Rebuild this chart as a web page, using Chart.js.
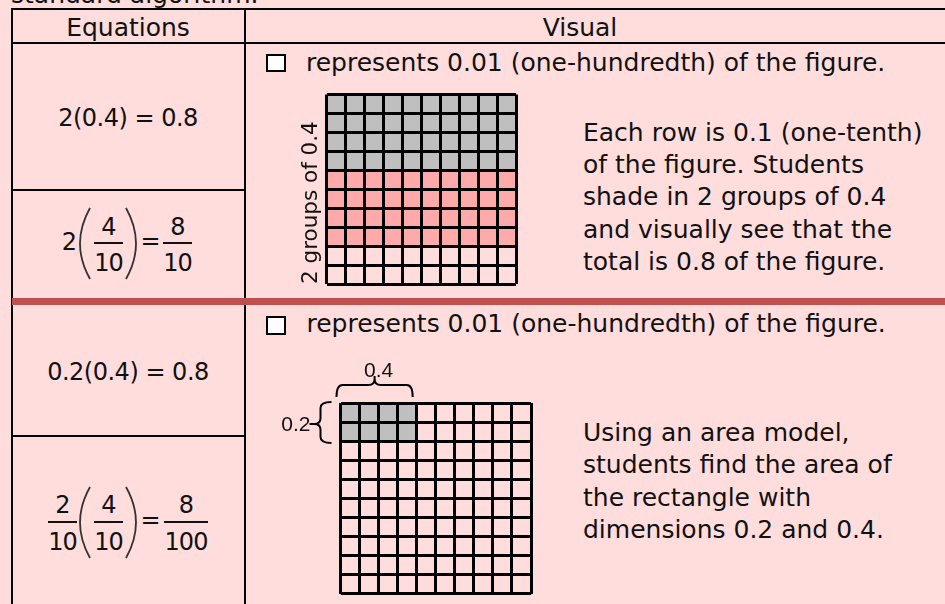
<!DOCTYPE html>
<html>
<head>
<meta charset="utf-8">
<script src="https://cdn.jsdelivr.net/npm/chart.js@4.4.1/dist/chart.umd.min.js"></script>
<style>
  html, body { margin: 0; padding: 0; }
  body { width: 945px; height: 604px; overflow: hidden; position: relative; background: #FFDDDD;
         font-family: 'DejaVu Sans', sans-serif; color: #111; }
  .t { position: absolute; white-space: nowrap; font-size: 25px; line-height: 1.164; }
  .c { width: 200px; text-align: center; }
  .eq { font-size: 24px; letter-spacing: -0.5px; }
  .f { position: absolute; width: 60px; text-align: center; font-size: 24px; line-height: 1.164; letter-spacing: -1px; }
  .p { position: absolute; white-space: nowrap; font-size: 25px; line-height: 32.3px; }
  .box { position: absolute; width: 20px; height: 18px; box-sizing: border-box; border: 2px solid #000; background: #fff; }
  canvas { position: absolute; }
  svg { position: absolute; left: 0; top: 0; }
</style>
</head>
<body>

<svg width="945" height="604">
  <rect x="11" y="8" width="934" height="2" fill="#000"/>
  <rect x="11" y="42" width="934" height="2" fill="#000"/>
  <rect x="11" y="8" width="2" height="596" fill="#000"/>
  <rect x="244" y="8" width="2" height="596" fill="#000"/>
  <rect x="11" y="189" width="235" height="2" fill="#000"/>
  <rect x="11" y="435" width="235" height="2" fill="#000"/>
  <rect x="12" y="298" width="933" height="7" fill="#C0504D"/>
  <!-- fraction bars -->
  <rect x="94" y="242" width="29" height="2" fill="#111"/>
  <rect x="163" y="242" width="29" height="2" fill="#111"/>
  <rect x="48" y="521" width="29" height="2" fill="#111"/>
  <rect x="94" y="521" width="29" height="2" fill="#111"/>
  <rect x="164" y="521" width="44" height="2" fill="#111"/>
  <!-- parentheses -->
  <g fill="none" stroke="#333" stroke-width="1.8">
    <path d="M90 208 Q70 243.5 90 279"/>
    <path d="M126 208 Q146 243.5 126 279"/>
    <path d="M90 487 Q70 522.5 90 558"/>
    <path d="M126 487 Q146 522.5 126 558"/>
  </g>
</svg>

<div class="t" style="left:11px; top:-20.2px">standard algorithm.</div>
<div class="t c" style="left:28px; top:12.8px">Equations</div>
<div class="t c" style="left:480px; top:12.8px">Visual</div>

<div class="t eq c" style="left:28px; top:104.7px">2(0.4) = 0.8</div>
<div class="f" style="left:39px; top:229.4px">2</div>
<div class="f" style="left:78.5px; top:213.7px">4</div>
<div class="f" style="left:78.5px; top:249.7px">10</div>
<div class="f" style="left:120px; top:228.2px">=</div>
<div class="f" style="left:147.5px; top:213.7px">8</div>
<div class="f" style="left:147.5px; top:249.7px">10</div>

<div class="t eq c" style="left:28px; top:358.7px">0.2(0.4) = 0.8</div>
<div class="f" style="left:32.5px; top:491.7px">2</div>
<div class="f" style="left:32.5px; top:528.7px">10</div>
<div class="f" style="left:78.5px; top:491.7px">4</div>
<div class="f" style="left:78.5px; top:528.7px">10</div>
<div class="f" style="left:120px; top:507.2px">=</div>
<div class="f" style="left:156px; top:491.7px">8</div>
<div class="f" style="left:156px; top:528.7px">100</div>

<div class="box" style="left:266px; top:54px"></div>
<div class="t" style="left:306px; top:47.8px">represents 0.01 (one-hundredth) of the figure.</div>
<div class="p" style="left:583px; top:116.7px">Each row is 0.1 (one-tenth)<br>of the figure. Students<br>shade in 2 groups of 0.4<br>and visually see that the<br>total is 0.8 of the figure.</div>

<div class="box" style="left:265.5px; top:315.5px; height:19px"></div>
<div class="t" style="left:306.5px; top:309.3px">represents 0.01 (one-hundredth) of the figure.</div>
<div class="p" style="left:583px; top:417.2px">Using an area model,<br>students find the area of<br>the rectangle with<br>dimensions 0.2 and 0.4.</div>

<canvas id="grid1" width="256" height="210" style="left:270px; top:84px"></canvas>
<canvas id="grid2" width="275" height="254" style="left:270px; top:350px"></canvas>

<script>
// hundredths grids: 10 columns, rows listed from bottom to top, one cell = 0.01 of the figure
const gridColumns = ['1', '2', '3', '4', '5', '6', '7', '8', '9', '10'];
const cellValue = 1;
const gridRowCount = 10;

// grid 1: group of 0.4 that shades each row (0 = not shaded)
const grid1RowGroups = [0, 0, 2, 2, 2, 2, 1, 1, 1, 1];
const grid1Title = '2 groups of 0.4';

// grid 2: shaded cells in each row
const grid2ShadedCells = [0, 0, 0, 0, 0, 0, 0, 0, 4, 4];
const grid2WidthLabel = '0.4';
const grid2HeightLabel = '0.2';

const groupColors = ['rgba(0,0,0,0)', '#BFBFBF', '#FFAAAA'];
const shadeColor = '#BFBFBF';

Chart.defaults.font.family = "'DejaVu Sans'";

function rowDataset(colors) {
  return {
    data: gridColumns.map(() => cellValue),
    backgroundColor: colors,
    borderWidth: 0,
    barPercentage: 1,
    categoryPercentage: 1
  };
}

function gridScales(title) {
  return {
    x: {
      stacked: true,
      ticks: { display: false },
      grid: { color: '#000', lineWidth: 3, drawTicks: false, offset: true, z: 1 },
      border: { display: false }
    },
    y: {
      stacked: true, min: 0, max: gridRowCount,
      ticks: { display: false, stepSize: 1 },
      grid: { color: '#000', lineWidth: 3, drawTicks: false, z: 1 },
      border: { display: false },
      title: title || { display: false }
    }
  };
}

const baseOptions = {
  responsive: false,
  animation: false,
  events: [],
  plugins: { legend: { display: false }, tooltip: { enabled: false } }
};

// curly braces with the dimension labels of the shaded rectangle
const bracePlugin = {
  id: 'braces',
  afterDraw(chart) {
    const { ctx, scales: { x, y } } = chart;
    const cell = x.width / gridColumns.length;
    const cols = Math.max(...grid2ShadedCells);
    const rows = grid2ShadedCells.filter(n => n > 0).length;
    const r = 6;
    ctx.save();
    ctx.strokeStyle = '#000';
    ctx.lineWidth = 2;

    // top brace
    const x0 = x.left - 4, x1 = x.left + cols * cell - 4, xm = (x0 + x1) / 2;
    const yb = y.top - 6, ym = y.top - 18, yt = y.top - 27;
    ctx.beginPath();
    ctx.moveTo(x0, yb);
    ctx.quadraticCurveTo(x0, ym, x0 + r, ym);
    ctx.lineTo(xm - r, ym);
    ctx.quadraticCurveTo(xm, ym, xm, ym - r);
    ctx.lineTo(xm, yt);
    ctx.moveTo(xm, ym - r);
    ctx.quadraticCurveTo(xm, ym, xm + r, ym);
    ctx.lineTo(x1 - r, ym);
    ctx.quadraticCurveTo(x1, ym, x1, yb);
    ctx.stroke();

    // left brace
    const y0 = y.top - 1, y1 = y.getPixelForValue(gridRowCount - rows) + 2;
    const ymid = (y0 + y1) / 2 + 1.5;
    const xb = x.left - 9, xl = x.left - 20, xt = x.left - 31;
    ctx.beginPath();
    ctx.moveTo(xb, y0);
    ctx.quadraticCurveTo(xl, y0, xl, y0 + r);
    ctx.lineTo(xl, ymid - r);
    ctx.quadraticCurveTo(xl, ymid, xl - r, ymid);
    ctx.lineTo(xt, ymid);
    ctx.moveTo(xl - r, ymid);
    ctx.quadraticCurveTo(xl, ymid, xl, ymid + r);
    ctx.lineTo(xl, y1 - r);
    ctx.quadraticCurveTo(xl, y1, xb, y1);
    ctx.stroke();

    ctx.fillStyle = '#111';
    ctx.font = '21px "Liberation Sans"';
    ctx.textBaseline = 'alphabetic';
    ctx.textAlign = 'center';
    ctx.fillText(grid2WidthLabel, xm + 4, yt + 1);
    ctx.textAlign = 'right';
    ctx.fillText(grid2HeightLabel, xt + 1, ymid + 6.5);
    ctx.restore();
  }
};

new Chart(document.getElementById('grid1'), {
  type: 'bar',
  data: {
    labels: gridColumns,
    datasets: grid1RowGroups.map(g => rowDataset(groupColors[g]))
  },
  options: Object.assign({}, baseOptions, {
    layout: { padding: { left: 28.2, top: 10.5, right: 10, bottom: 10 } },
    scales: gridScales({
      display: true, text: grid1Title, align: 'start', color: '#111',
      font: { family: 'DejaVu Sans', size: 21.5 },
      padding: { top: 0, bottom: 2.5 }
    })
  })
});

new Chart(document.getElementById('grid2'), {
  type: 'bar',
  data: {
    labels: gridColumns,
    datasets: grid2ShadedCells.map(n => rowDataset(gridColumns.map((c, j) => j < n ? shadeColor : 'rgba(0,0,0,0)')))
  },
  options: Object.assign({}, baseOptions, {
    layout: { padding: { left: 70.5, top: 53, right: 14, bottom: 10.5 } },
    scales: gridScales(null)
  }),
  plugins: [bracePlugin]
});
</script>
</body>
</html>
